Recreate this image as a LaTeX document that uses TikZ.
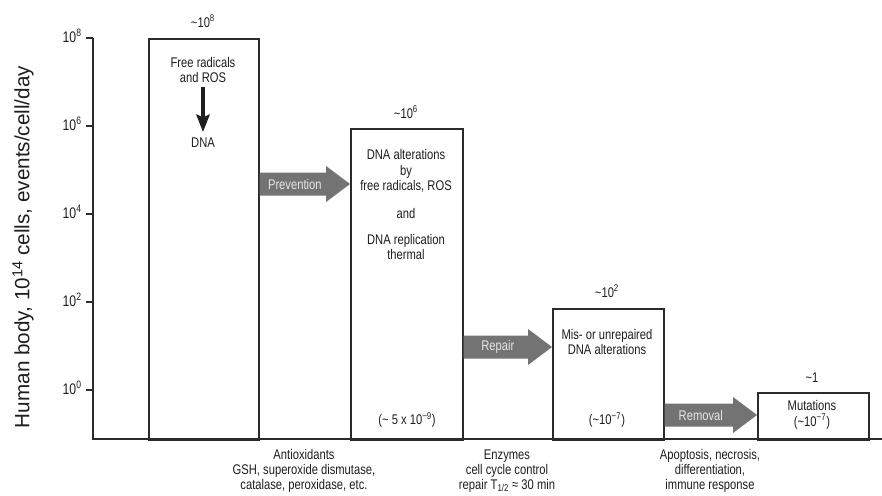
\documentclass[tikz,border=0pt]{standalone}
\usepackage{fontspec}
\setmainfont{Liberation Sans}[FakeStretch=0.8]
\newfontfamily\widefont{Liberation Sans}
\usetikzlibrary{calc,arrows.meta}
\definecolor{ink}{HTML}{1E1E1E}
\definecolor{boxc}{HTML}{2B2B2B}
\definecolor{arrowc}{HTML}{737373}
\definecolor{arrowtxt}{HTML}{E6E6E6}
\newcommand\tl{\textasciitilde}
% #1 from node, #2 to node, #3 y (px), #4 label
\newcommand\blockarrow[4]{%
  \path (#1.east |- 0,#3) coordinate (#1-s) (#2.west |- 0,#3) coordinate (#1-e);
  \fill[arrowc] ($(#1-s)+(0,-11.5)$) -- ($(#1-e)+(-24,-11.5)$) -- ($(#1-e)+(-24,-18)$) -- (#1-e)
     -- ($(#1-e)+(-24,18)$) -- ($(#1-e)+(-24,11.5)$) -- ($(#1-s)+(0,11.5)$) -- cycle;
  \node[arrowtext] (#1-lab) at ($(#1-s)!0.5!(#1-e)+(-10,0)$) {#4};
}
\begin{document}
\begin{tikzpicture}[x=0.75pt,y=-0.75pt,
  box/.style={draw=boxc,line width=1.2pt,anchor=north west,inner sep=0pt},
  txt/.style={font=\fontsize{10.5}{11.5}\selectfont,text=ink,align=center,inner sep=0pt},
  axisline/.style={draw=boxc,line width=1.8pt},
  arrowtext/.style={font=\fontsize{10.5}{11.5}\selectfont,text=arrowtxt,inner sep=0pt}]
\useasboundingbox[fill=white] (0,0) rectangle (882,496);

% axes
\coordinate (ytop) at (93,38);
\coordinate (O) at (93,439);
\coordinate (xend) at (882,439);

% boxes
\node[box,minimum width=82.5pt,minimum height=300.75pt] (b1) at (148,38) {};
\node[box,minimum width=84pt,minimum height=233.25pt] (b2) at (350,128) {};
\node[box,minimum width=83.25pt,minimum height=98.25pt] (b3) at (552,308) {};
\node[box,minimum width=83.25pt,minimum height=35.25pt] (b4) at (757,392) {};

\draw[axisline] (ytop) -- (O) -- (xend);

% ticks
\foreach \e/\yy in {8/38,6/126,4/214,2/302,0/390}{
  \coordinate (t\e) at (86,\yy);
  \draw[draw=boxc,line width=1.3pt] (t\e) -- (O |- t\e);
  \node[txt,font=\fontsize{11.5}{12}\selectfont,anchor=base east] (tl\e) at (82,\yy+4) {10\textsuperscript{\e}};
}

% y label
\node[rotate=90,inner sep=0pt,text=ink,font=\widefont\fontsize{15.5}{17}\selectfont] (ylab) at (23,247)
  {Human body, 10\textsuperscript{14} cells, events/cell/day};

% values above boxes
\node[txt] (v1) at (203,21) {\tl 10\textsuperscript{8}};
\node[txt] (v2) at (406,112) {\tl 10\textsuperscript{6}};
\node[txt] (v3) at (607,291) {\tl 10\textsuperscript{2}};
\node[txt] (v4) at (812,378) {\tl 1};

% box 1
\node[txt] (fr) at (203,70) {Free radicals\\and ROS};
\node[txt] (dna) at (203,143) {DNA};
\draw[draw=ink,line width=2.4pt,-{Stealth[length=13pt,width=10pt,inset=2pt]},shorten <=3pt,shorten >=4.5pt] (fr) -- (dna);

% box 2
\node[txt] (alt) at (406,171) {DNA alterations\\by\\free radicals, ROS};
\node[txt] (and) at (406,213) {and};
\node[txt] (repl) at (406,247) {DNA replication\\thermal};
\node[txt] (p2) at (407,420) {(\tl\ 5 x 10\textsuperscript{−9})};

% box 3
\node[txt] (mis) at (607,342) {Mis- or unrepaired\\DNA alterations};
\node[txt] (p3) at (607,420) {(\tl 10\textsuperscript{−7})};

% box 4
\node[txt] (mut) at (812,415) {Mutations\\(\tl 10\textsuperscript{−7})};

% block arrows
\blockarrow{b1}{b2}{184}{Prevention}
\blockarrow{b2}{b3}{347}{Repair}
\blockarrow{b3}{b4}{415}{Removal}

% bottom labels
\node[txt] (anti) at (304,471) {Antioxidants\\GSH, superoxide dismutase,\\catalase, peroxidase, etc.};
\node[txt] (enz) at (507,471) {Enzymes\\cell cycle control\\repair T\textsubscript{1/2} ≈ 30 min};
\node[txt] (apo) at (710,471) {Apoptosis, necrosis,\\differentiation,\\immune response};
\end{tikzpicture}
\end{document}
